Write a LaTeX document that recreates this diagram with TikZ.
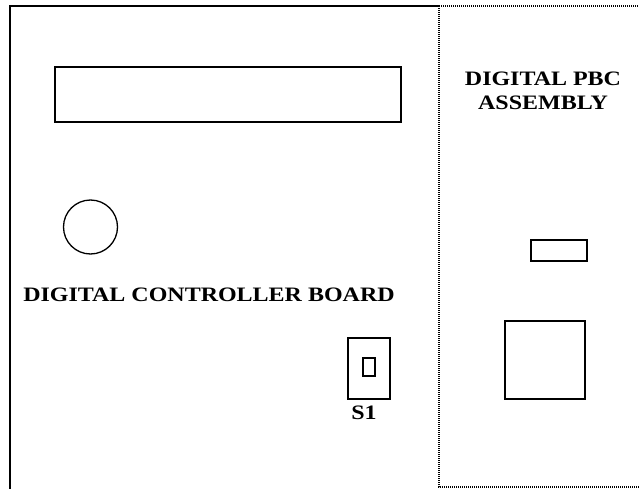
\documentclass[tikz,border=0pt]{standalone}
\usepackage{fontspec}
\setmainfont{Liberation Serif}[FakeStretch=1.17]
\usetikzlibrary{calc}
\begin{document}
\begin{tikzpicture}[x=1pt,y=-1pt,
  solidline/.style={line width=1.4pt, line cap=rect},
  dotline/.style={line width=1.2pt, dash pattern=on 1pt off 1pt},
  part/.style={draw, line width=1.3pt},
  lbl/.style={font=\fontsize{20.5}{24}\selectfont\bfseries, inner sep=0pt, anchor=base}]
\useasboundingbox (0,0) rectangle (639,489);
% board outlines
\coordinate (bl) at (10,489);
\coordinate (tl) at (10,6);
\coordinate (tm) at (439,6);
\coordinate (bm) at (439,487);
\coordinate (tr) at (640,6);
\coordinate (br) at (640,487);
\draw[solidline] (bl) -- (tl) -- (tm);
\draw[dotline] (tm) -- (tr);
\draw[dotline] (tm) -- (bm) -- (br);
% controller board parts
\draw[part] (55,67) rectangle (401,122);
\node[part, circle, minimum size=54pt, inner sep=0pt] (knob) at (90.5,227) {};
\node[lbl] (ctl) at (209,301) {DIGITAL CONTROLLER BOARD};
\draw[part] (348,338) rectangle (390,399);
\draw[part] (363,358) rectangle (375,376);
\node[lbl] (s1) at (364,419) {S1};
% PBC assembly
\node[lbl] (pbc1) at (543,86) {DIGITAL PBC};
\node[lbl] (pbc2) at (543,110) {ASSEMBLY};
\draw[part] (531,240) rectangle (587,261);
\draw[part] (505,321) rectangle (585,399);
\end{tikzpicture}
\end{document}
